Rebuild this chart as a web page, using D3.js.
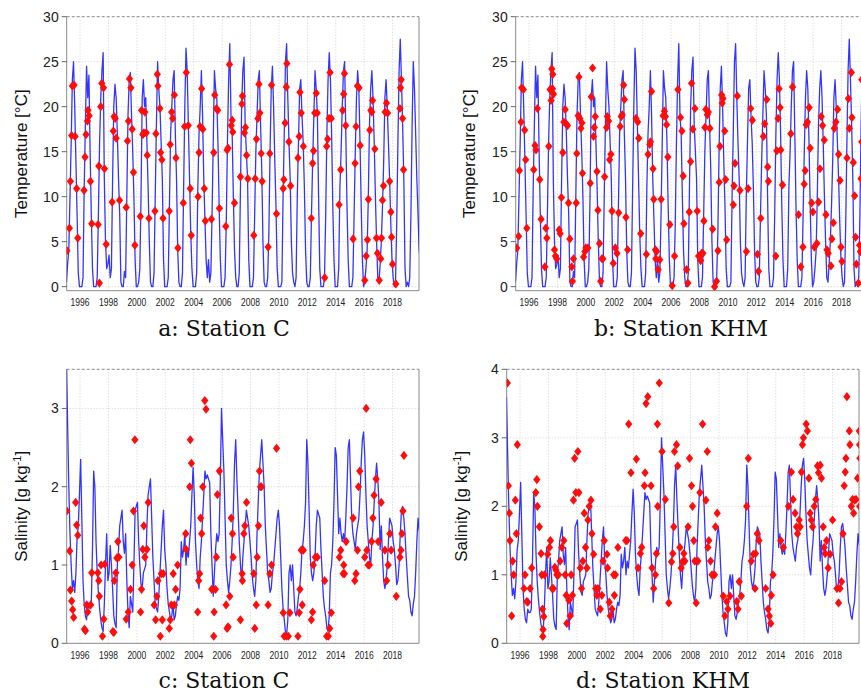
<!DOCTYPE html>
<html><head><meta charset="utf-8">
<script src="https://cdn.jsdelivr.net/npm/d3@7"></script>
<style>body{margin:0;background:#fff}svg{display:block}</style>
</head><body>
<svg id="chart" width="861" height="692"></svg>
<script>
// ---------- DATA ----------
const startYear = 1995;
const yearTicks = [1996,1998,2000,2002,2004,2006,2008,2010,2012,2014,2016,2018];
const tempTicks = [0,5,10,15,20,25,30];
const salTicksC = [0,1,2,3];
const salTicksKHM = [0,1,2,3,4];

// monthly modelled water temperature (Jan..Dec), 1995-2019
const tempLine = [
 0.5,2.5,4,10,16,23,25,20,14,8,1.5,0,
 0,0,1,11,18,24.5,21,23.5,15,8,2,0,
 0,0,1,8,16,21,24,26,12,5,2,2.5,
 3.5,1,2,12,20,22.5,21,17,12,8,0.5,0,
 0,1.7,1,10,19,23,23.8,19,15,10,3,0,
 0,0.5,2,10,21,23,20,21,16,11,5,0.5,
 0,0,1.5,10,18,25,22,20,16,12,3,0,
 0,0,1,9,17,20,23,24,17,12,4,0.5,
 0,0,1.5,11,20,26.5,24,18,12,6,2,0,
 0,0,1.5,11,17,20,24,19,12,7.5,3,1,
 3,0.5,1.5,8,16,24,22,21,16,9,3,0,
 0,0,1,7,16,23,27,19,17,10,4,1,
 0,0,1.5,11,20,24,25.5,18,15,12,3,0,
 0,0,1,8,15,19,23,24,18,13,5,0.5,
 0,0,1,6,15,22,24.5,20,14,9,2,0,
 0,0,0.5,10,17,25,27,21,16,12,5,1.5,
 0.5,0,1,10,16,22,23,19,16,11,4,0.5,
 0,0,1,8,14,19,24,22,19,10,2,0,
 0,0,1,8,17,23,26,23,17,9,3,0,
 0,0,2,11,15,20,24,25,17,9,3,0,
 0,0,1,8,15,21,24,22,16,9,3,0,
 0.5,2,4,10,18,22,24,21,16,10,5,1,
 0.5,2.5,5,9,14,21,23,20,16,12,7,3,
 1,0,0.5,7,16,24,27.5,23,18,12,2,0,
 0.5,0,1,8,18,25,22,17,12,8,4,3
];

// monthly modelled salinity (Jan..Dec), 1995-2019
const salLine = [
 3.6,2.8,2.0,1.4,1.0,0.7,0.8,0.65,0.9,1.35,1.5,1.9,
 2.35,1.6,0.8,0.5,0.35,0.3,0.5,0.45,0.45,0.5,1.2,2.2,
 2.0,1.3,0.9,0.65,0.45,0.3,0.2,0.15,0.5,1.0,1.4,0.8,
 0.9,1.25,1.0,0.7,0.35,0.25,0.2,1.0,1.2,1.5,1.6,1.7,
 1.3,1.15,1.4,0.8,0.4,0.2,0.6,0.5,0.4,1.0,1.7,1.75,
 1.8,1.3,1.0,0.75,0.7,0.9,0.95,1.0,1.5,1.9,2.0,2.1,
 1.6,1.1,0.8,0.5,0.45,0.4,0.6,0.9,1.2,1.5,1.7,1.2,
 1.0,0.7,0.5,0.4,0.3,0.35,0.5,0.3,0.35,0.5,0.6,0.55,
 0.7,1.3,1.1,1.2,1.4,1.0,1.2,1.1,1.3,1.5,1.9,2.25,
 1.9,1.3,1.0,0.8,0.7,1.1,1.3,1.6,1.9,2.2,2.1,2.15,
 2.1,2.05,1.4,1.0,0.6,0.9,1.2,1.4,1.3,1.4,2.1,3.0,
 2.6,2.2,1.6,1.0,0.8,0.65,0.8,1.0,1.3,1.7,2.3,2.6,
 2.1,1.7,1.3,1.0,0.8,1.1,1.3,1.5,1.7,1.6,1.5,1.3,
 1.1,0.85,0.7,0.6,0.8,1.4,1.8,2.2,2.4,2.6,2.3,2.0,
 1.5,1.2,0.9,0.8,0.65,0.7,0.9,1.0,1.2,1.4,1.6,1.7,
 1.5,1.1,0.7,0.45,0.3,0.15,0.1,0.3,0.9,1.0,0.8,1.0,
 0.7,0.4,0.35,0.45,0.6,0.7,0.9,1.2,1.3,1.5,1.8,2.6,
 2.3,1.7,1.1,0.9,0.8,0.9,1.1,1.5,1.7,1.65,1.6,1.2,
 0.9,0.6,0.45,0.35,0.2,0.15,0.35,0.9,1.0,1.3,1.8,2.5,
 2.4,1.9,1.4,1.6,1.4,1.3,1.4,1.3,1.6,2.0,2.5,2.6,
 2.1,1.6,1.4,1.3,1.2,1.4,1.5,1.6,1.9,2.3,2.6,2.7,
 2.4,1.9,1.5,1.3,1.1,1.0,1.3,1.5,1.8,2.1,2.3,2.1,
 1.8,1.2,1.5,1.1,0.8,0.7,0.8,1.0,1.3,1.6,1.55,1.5,
 1.3,1.2,1.0,0.75,0.8,1.0,1.4,1.7,1.75,1.6,1.4,1.1,
 0.85,0.6,0.55,0.4,0.35,0.5,0.6,0.9,1.3,1.6,1.45,1.4
];

// measured values [decimal year, value]
const obsTempC = [
[1995.07,4.0],[1995.25,6.5],[1995.32,11.7],[1995.41,16.8],[1995.46,22.3],[1995.58,22.4],[1995.65,16.7],[1995.76,10.9],[1995.84,5.4],
[1996.28,10.7],[1996.35,14.4],[1996.42,16.9],[1996.52,18.4],[1996.56,19.6],[1996.64,19.0],[1996.73,11.7],[1996.82,7.0],
[1997.27,6.9],[1997.32,13.4],[1997.36,0.4],[1997.46,20.0],[1997.53,22.6],[1997.65,22.1],[1997.72,13.1],[1997.84,4.7],
[1998.26,9.4],[1998.34,17.3],[1998.40,18.9],[1998.47,18.7],[1998.54,16.5],[1998.78,9.6],
[1999.25,8.8],[1999.34,16.2],[1999.41,18.4],[1999.48,23.1],[1999.58,22.1],[1999.67,17.5],[1999.76,12.7],[1999.86,4.6],
[2000.24,7.8],[2000.33,19.6],[2000.42,16.9],[2000.49,17.1],[2000.56,19.4],[2000.66,17.1],[2000.73,14.6],[2000.85,7.6],
[2001.27,8.4],[2001.34,17.0],[2001.44,23.6],[2001.48,22.3],[2001.62,19.8],[2001.67,14.9],[2001.76,14.1],[2001.84,7.6],
[2002.28,8.4],[2002.35,15.8],[2002.45,19.4],[2002.52,18.7],[2002.64,21.3],[2002.75,14.3],[2002.89,4.3],
[2003.27,9.3],[2003.36,17.8],[2003.48,23.8],[2003.62,17.9],[2003.76,10.9],[2003.83,5.7],
[2004.31,10.0],[2004.38,14.9],[2004.45,17.8],[2004.56,22.0],[2004.64,17.5],[2004.75,10.9],[2004.82,7.3],
[2005.25,7.5],[2005.41,14.9],[2005.48,21.3],[2005.60,19.8],[2005.69,19.6],[2005.81,8.7],
[2006.26,6.7],[2006.35,15.2],[2006.42,15.4],[2006.52,24.7],[2006.64,17.9],[2006.71,18.5],[2006.75,17.2],[2006.87,9.3],
[2007.29,12.2],[2007.39,20.3],[2007.43,21.2],[2007.57,17.1],[2007.64,17.7],[2007.72,14.6],[2007.81,12.0],
[2008.23,5.7],[2008.33,12.0],[2008.42,16.4],[2008.52,18.7],[2008.59,22.5],[2008.66,19.3],[2008.75,14.8],[2008.82,11.7],
[2009.24,4.4],[2009.36,14.8],[2009.48,22.4],[2009.83,8.1],
[2010.30,10.9],[2010.35,11.9],[2010.44,18.2],[2010.52,22.2],[2010.56,24.8],[2010.70,16.1],[2010.82,11.2],
[2011.34,14.3],[2011.43,16.7],[2011.48,21.6],[2011.57,19.3],[2011.72,15.6],
[2012.28,7.6],[2012.37,13.7],[2012.44,15.1],[2012.52,19.3],[2012.63,21.5],[2012.70,19.3],
[2013.22,1.0],[2013.36,15.6],[2013.43,16.4],[2013.53,18.7],[2013.60,23.8],[2013.69,18.7],
[2014.23,9.1],[2014.35,13.0],[2014.49,19.6],[2014.56,21.4],[2014.61,23.7],[2014.70,17.9],
[2015.22,5.3],[2015.36,13.7],[2015.43,17.8],[2015.53,22.3],[2015.64,22.1],[2015.72,15.7],
[2016.04,0.7],[2016.14,3.4],[2016.23,5.2],[2016.30,9.7],[2016.40,17.4],[2016.47,19.6],[2016.54,19.4],[2016.59,20.7],[2016.75,15.3],[2016.87,5.4],[2016.94,3.7],
[2017.06,0.7],[2017.17,3.1],[2017.22,5.4],[2017.29,9.6],[2017.36,11.2],[2017.48,19.4],[2017.57,20.4],[2017.65,19.3],[2017.79,11.7],[2017.88,8.3],[2017.93,5.5],[2018.00,2.5],
[2018.23,0.3],[2018.52,19.8],[2018.56,22.1],[2018.61,23.0],[2018.70,18.7],[2018.77,13.0]
];
const obsTempKHM = [
[1995.13,4.3],[1995.27,5.6],[1995.32,12.9],[1995.44,18.3],[1995.48,22.1],[1995.60,21.9],[1995.69,17.4],[1995.76,14.1],[1995.84,6.5],
[1996.33,13.0],[1996.42,15.7],[1996.49,15.2],[1996.59,19.8],[1996.75,11.9],[1996.85,7.5],
[1997.11,2.2],[1997.18,6.5],[1997.25,5.4],[1997.39,15.6],[1997.48,21.9],[1997.55,20.7],[1997.60,24.2],[1997.65,22.0],[1997.67,23.6],[1997.72,21.4],[1997.79,4.1],[1997.86,3.4],[1997.95,3.1],
[1998.12,6.3],[1998.19,5.9],[1998.28,9.9],[1998.38,14.9],[1998.45,18.3],[1998.54,19.7],[1998.61,18.1],[1998.71,17.9],[1998.78,9.3],[1998.87,5.3],[1999.01,2.2],[1999.06,0.6],[1999.13,3.1],
[1999.32,9.3],[1999.36,14.8],[1999.46,19.0],[1999.51,23.3],[1999.58,18.7],[1999.65,17.6],[1999.72,18.2],[1999.76,12.6],[1999.84,3.3],[1999.93,3.9],[2000.00,4.3],[2000.14,4.3],
[2000.31,11.5],[2000.38,21.1],[2000.47,24.3],[2000.54,16.7],[2000.59,17.7],[2000.66,18.9],[2000.78,12.8],[2000.85,8.5],[2000.96,4.8],[2001.04,0.6],[2001.13,3.1],[2001.20,3.1],
[2001.32,12.2],[2001.46,17.7],[2001.51,18.9],[2001.60,18.4],[2001.67,14.1],[2001.76,14.7],[2001.84,8.4],[2001.93,2.6],[2002.07,4.3],[2002.19,3.7],[2002.31,8.2],
[2002.42,17.8],[2002.49,18.9],[2002.56,19.1],[2002.66,22.4],[2002.71,20.8],[2002.82,7.7],[2002.94,4.1],
[2003.53,18.7],[2003.65,18.3],[2003.72,16.5],[2003.86,5.9],
[2004.26,3.6],[2004.38,14.7],[2004.50,15.8],[2004.55,16.1],[2004.62,21.7],[2004.73,13.1],[2004.78,9.7],[2004.90,4.1],[2004.97,3.9],[2004.92,3.1],[2005.09,1.9],[2005.20,3.0],
[2005.30,9.7],[2005.44,19.0],[2005.53,19.5],[2005.60,18.9],[2005.68,18.0],[2005.77,14.4],[2005.91,6.9],
[2006.08,0.1],[2006.24,3.4],[2006.48,21.9],[2006.66,18.8],[2006.76,17.3],[2006.85,12.3],[2006.90,7.0],
[2007.09,1.9],[2007.18,0.4],[2007.28,8.3],[2007.37,13.9],[2007.44,22.6],[2007.53,17.5],[2007.68,19.8],[2007.84,8.4],
[2007.93,3.4],[2008.08,2.9],[2008.15,3.7],[2008.24,3.7],[2008.31,7.3],[2008.38,17.7],[2008.45,19.7],[2008.55,19.1],[2008.62,19.4],[2008.73,17.6],[2008.92,6.4],
[2009.06,0.0],[2009.20,0.6],[2009.30,4.0],[2009.39,11.6],[2009.44,15.6],[2009.56,21.3],[2009.60,20.4],[2009.65,20.9],[2009.77,17.3],[2009.84,11.9],[2009.91,5.2],
[2010.38,9.1],[2010.43,11.2],[2010.50,13.7],[2010.66,21.2],[2010.85,10.7],
[2011.30,3.9],[2011.42,10.9],[2011.60,19.8],[2011.72,18.5],
[2012.08,3.6],[2012.15,1.7],[2012.31,7.6],[2012.50,16.7],[2012.59,18.1],[2012.73,20.8],[2012.80,13.3],[2012.85,11.7],
[2013.37,3.4],[2013.44,15.1],[2013.53,18.7],[2013.60,22.0],[2013.67,19.9],[2013.72,15.2],[2013.84,11.3],
[2014.43,17.0],[2014.55,22.2],[2014.97,8.0],
[2015.13,2.2],[2015.28,4.4],[2015.37,11.4],[2015.44,12.9],[2015.51,18.0],[2015.60,18.3],[2015.72,19.9],[2015.79,15.4],[2015.89,9.3],[2015.98,8.3],
[2016.08,4.4],[2016.26,4.8],[2016.38,9.4],[2016.48,13.1],[2016.57,18.9],[2016.66,17.9],[2016.78,16.3],[2016.90,8.0],[2016.97,4.1],
[2017.06,3.7],[2017.25,2.3],[2017.32,5.3],[2017.42,7.1],[2017.49,17.6],[2017.60,18.3],[2017.72,19.7],[2017.79,14.7],[2017.89,11.8],[2017.96,4.4],[2018.03,2.8],
[2018.38,14.3],[2018.48,20.9],[2018.55,17.6],[2018.69,23.8],[2018.73,18.8],[2018.83,13.8],[2018.92,10.1],[2018.99,5.5],[2019.04,2.5],
[2019.18,0.4],[2019.27,4.6],[2019.32,3.9],[2019.37,12.0],[2019.42,16.1],[2019.42,23.0]
];
const obsSalC = [
[1995.07,1.69],[1995.27,1.18],[1995.32,0.68],[1995.41,0.54],[1995.48,0.43],[1995.55,0.33],[1995.69,1.8],[1995.76,1.51],[1995.84,1.38],
[1996.31,0.18],[1996.38,0.16],[1996.47,0.49],[1996.54,0.4],[1996.75,0.49],[1996.82,0.9],
[1997.25,0.9],[1997.32,0.8],[1997.36,0.6],[1997.48,1.0],[1997.58,0.09],[1997.67,0.31],[1997.74,1.01],
[1998.31,0.15],[1998.38,0.14],[1998.42,0.8],[1998.52,0.9],[1998.59,1.09],[1998.66,1.3],[1998.73,1.1],
[1999.25,0.31],[1999.39,0.4],[1999.55,0.69],[1999.67,1.0],[1999.76,1.69],[1999.86,2.6],
[2000.26,0.4],[2000.33,0.69],[2000.42,1.2],[2000.49,1.5],[2000.56,1.1],[2000.71,1.2],[2000.80,1.8],
[2001.22,0.49],[2001.32,0.3],[2001.41,0.6],[2001.48,0.8],[2001.65,0.09],[2001.72,0.89],[2001.79,0.3],[2001.86,0.89],
[2002.28,0.19],[2002.35,0.3],[2002.42,0.49],[2002.56,0.89],[2002.64,0.49],[2002.73,0.69],[2002.87,1.0],
[2003.44,1.4],[2003.46,1.2],[2003.72,2.0],[2003.76,2.6],[2003.84,2.3],
[2004.28,0.4],[2004.35,0.8],[2004.42,0.89],[2004.49,1.6],[2004.56,1.4],[2004.64,2.0],[2004.78,3.1],[2004.87,2.99],
[2005.27,0.69],[2005.41,0.09],[2005.44,0.4],[2005.53,0.69],[2005.60,1.1],[2005.67,1.9],[2005.81,2.2],
[2006.28,0.49],[2006.35,0.19],[2006.42,0.21],[2006.54,0.6],[2006.64,1.6],[2006.73,1.4],[2006.78,1.1],
[2007.29,0.3],[2007.41,0.89],[2007.43,0.8],[2007.53,1.4],[2007.60,1.5],[2007.72,1.8],
[2008.23,0.89],[2008.30,0.19],[2008.40,0.49],[2008.47,1.1],[2008.56,1.5],[2008.63,2.2],[2008.70,2.0],[2008.77,2.0],
[2009.24,0.49],[2009.36,0.89],[2009.48,1.0],[2009.83,2.49],
[2010.30,0.39],[2010.37,0.09],[2010.52,0.09],[2010.66,0.09],[2010.77,0.39],
[2011.34,0.09],[2011.43,0.39],[2011.48,0.69],[2011.57,1.19],[2011.64,0.49],[2011.72,1.19],
[2012.28,0.3],[2012.37,0.4],[2012.42,1.0],[2012.56,1.1],[2012.70,1.1],
[2013.22,0.8],[2013.36,0.09],[2013.48,0.09],[2013.57,0.19],[2013.69,0.39],
[2014.26,1.1],[2014.35,1.19],[2014.52,0.89],[2014.56,1.0],[2014.61,0.89],[2014.73,1.3],
[2015.22,1.6],[2015.34,0.8],[2015.43,0.89],[2015.53,1.19],[2015.60,2.0],[2015.69,2.2],
[2016.04,1.1],[2016.14,3.0],[2016.19,1.19],[2016.28,1.0],[2016.37,1.0],[2016.52,1.3],[2016.61,1.6],[2016.70,1.89],[2016.84,2.1],[2016.99,1.3],
[2017.20,1.8],[2017.46,1.19],[2017.58,0.8],[2017.69,1.0],[2017.81,1.4],[2017.90,1.19],
[2018.26,0.6],[2018.52,1.1],[2018.59,1.19],[2018.66,1.4],[2018.73,1.69],[2018.80,2.4]
];
const obsSalKHM = [
[1995.11,3.8],[1995.18,2.3],[1995.25,1.9],[1995.29,1.5],[1995.41,0.4],[1995.48,1.2],[1995.55,1.0],[1995.67,2.09],[1995.74,1.6],[1995.81,2.9],
[1996.28,0.8],[1996.35,1.0],[1996.47,0.61],[1996.54,0.6],[1996.71,0.8],[1996.82,1.1],
[1997.11,2.2],[1997.18,2.39],[1997.22,2.0],[1997.36,1.7],[1997.48,1.31],[1997.53,1.0],[1997.58,0.5],[1997.60,0.1],[1997.62,0.2],[1997.67,0.39],[1997.72,1.0],
[1997.95,1.3],[1998.07,1.4],[1998.14,1.5],[1998.26,0.8],[1998.35,0.8],[1998.45,1.11],[1998.52,1.07],[1998.59,1.0],[1998.71,1.0],[1998.82,1.2],[1998.94,1.4],
[1999.08,1.5],[1999.18,1.0],[1999.25,0.7],[1999.29,0.29],[1999.44,0.63],[1999.53,0.4],[1999.60,1.0],[1999.69,0.7],[1999.76,2.09],[1999.84,2.7],[1999.93,2.2],
[2000.07,2.8],[2000.14,2.2],[2000.24,1.1],[2000.33,0.8],[2000.42,1.2],[2000.52,1.9],[2000.61,1.4],[2000.71,1.1],[2000.78,1.8],[2000.87,2.0],[2000.99,2.09],
[2001.06,1.6],[2001.18,1.3],[2001.32,0.8],[2001.41,0.7],[2001.48,0.8],[2001.65,0.5],[2001.76,0.7],[2001.84,1.2],[2001.93,1.5],
[2002.12,1.3],[2002.16,1.1],[2002.28,0.6],[2002.35,0.4],[2002.47,0.5],[2002.59,1.0],[2002.64,0.7],[2002.71,1.0],[2002.89,1.4],
[2003.44,1.5],[2003.53,1.5],[2003.65,3.2],[2003.81,2.49],
[2004.19,2.69],[2004.31,1.1],[2004.47,1.31],[2004.56,1.4],[2004.75,2.3],[2004.80,2.49],[2004.87,3.5],[2004.99,3.6],
[2005.22,2.3],[2005.29,1.1],[2005.41,0.8],[2005.53,1.0],[2005.60,1.31],[2005.67,3.2],[2005.69,2.0],[2005.80,3.8],
[2006.00,2.8],[2006.23,2.1],[2006.47,0.59],[2006.66,1.19],[2006.75,1.31],[2006.82,1.7],[2006.87,2.8],
[2007.01,2.9],[2007.10,2.59],[2007.25,1.4],[2007.34,1.1],[2007.43,1.19],[2007.53,1.31],[2007.60,1.2],[2007.83,1.7],[2007.93,2.7],
[2008.07,2.3],[2008.14,2.0],[2008.23,1.5],[2008.30,1.2],[2008.40,0.59],[2008.52,1.2],[2008.66,2.2],[2008.85,3.2],
[2009.08,2.09],[2009.18,2.8],[2009.22,1.4],[2009.29,1.5],[2009.41,1.2],[2009.51,1.0],[2009.69,1.0],[2009.76,1.7],[2009.88,1.9],
[2010.31,0.69],[2010.42,0.4],[2010.54,0.61],[2010.63,0.5],[2010.78,0.69],
[2011.25,0.61],[2011.34,0.5],[2011.43,0.9],[2011.58,0.69],[2011.95,2.0],[2012.07,2.7],
[2012.28,1.2],[2012.42,1.3],[2012.54,0.8],[2012.58,1.31],[2012.70,1.6],[2012.82,1.5],
[2013.29,0.8],[2013.46,0.5],[2013.55,0.4],[2013.65,0.29],[2013.69,0.7],[2013.81,1.0],
[2014.35,1.5],[2014.54,1.4],[2014.89,2.0],[2015.10,2.5],[2015.22,2.1],[2015.36,1.9],[2015.46,1.7],[2015.53,1.6],[2015.65,1.8],[2015.72,1.7],
[2015.81,2.5],[2015.88,2.9],[2015.95,3.0],[2016.14,3.2],[2016.23,3.1],[2016.33,2.41],[2016.42,1.9],[2016.50,1.8],[2016.59,1.7],[2016.71,2.0],[2016.82,2.1],[2016.94,2.59],[2017.01,2.49],
[2017.13,2.6],[2017.22,2.41],[2017.34,1.7],[2017.41,1.4],[2017.48,1.31],[2017.58,1.5],[2017.69,1.1],[2017.83,1.3],[2018.00,1.8],
[2018.31,0.8],[2018.42,0.59],[2018.52,0.8],[2018.63,0.9],[2018.73,1.6],[2018.82,2.3],[2018.89,2.5],[2018.94,2.7],[2019.01,3.6],
[2019.18,3.1],[2019.22,2.9],[2019.32,2.0],[2019.41,2.1],[2019.48,1.9],[2019.55,2.09],[2019.65,2.1],[2019.76,2.41],[2019.88,3.1],[2019.90,2.9],[2019.92,2.7],[2019.90,2.0]
];

// ---------- DRAWING ----------
const svg = d3.select('#chart');
const defs = svg.append('defs');
const X_DOMAIN = [1995.06, 2019.86];
const PW = 352.3;

function monthly(arr){ return arr.map((v,i)=>[startYear + (i + 0.5)/12, v]); }

function panel(cfg, idx){
  const {left, top, bottom, yDomain, yTicks, line, obs, title, sup, caption, capX, capY} = cfg;
  const x = d3.scaleLinear().domain(X_DOMAIN).range([left, left + PW]);
  const y = d3.scaleLinear().domain(yDomain).range([bottom, top]);
  const g = svg.append('g');
  const cid = 'clip' + idx;
  defs.append('clipPath').attr('id', cid).append('rect')
    .attr('x', left).attr('y', top).attr('width', PW).attr('height', bottom - top);

  // grid
  g.append('g').selectAll('line').data(yearTicks).join('line')
    .attr('x1', d=>x(d)).attr('x2', d=>x(d)).attr('y1', top).attr('y2', bottom)
    .attr('stroke', '#d0d0d0').attr('stroke-width', 1).attr('stroke-dasharray', '1,2');
  g.append('g').selectAll('line').data(yTicks.filter(t=>t>yDomain[0] && t<yDomain[1])).join('line')
    .attr('x1', left).attr('x2', left + PW).attr('y1', d=>y(d)).attr('y2', d=>y(d))
    .attr('stroke', '#d0d0d0').attr('stroke-width', 1).attr('stroke-dasharray', '1,2');

  // frame
  g.append('line').attr('x1', left).attr('x2', left + PW).attr('y1', top).attr('y2', top)
    .attr('stroke', '#8a8a8a').attr('stroke-dasharray', '3,2');
  g.append('path').attr('d', `M${left},${top}V${bottom}H${left+PW}V${top}`)
    .attr('fill', 'none').attr('stroke', '#8a8a8a').attr('stroke-width', 1);

  // y ticks & labels
  g.append('g').selectAll('line').data(yTicks).join('line')
    .attr('x1', left - 5).attr('x2', left).attr('y1', d=>y(d)).attr('y2', d=>y(d))
    .attr('stroke', '#666');
  g.append('g').selectAll('text').data(yTicks).join('text')
    .attr('x', left - 8).attr('y', d=>y(d)).attr('dy', '0.36em')
    .attr('text-anchor', 'end').attr('font-family', 'Liberation Sans, Arial, sans-serif')
    .attr('font-size', 14).attr('fill', '#222').text(d=>d);

  // x labels
  g.append('g').selectAll('text').data(yearTicks).join('text')
    .attr('x', d=>x(d)).attr('y', bottom + 15.5)
    .attr('text-anchor', 'middle').attr('font-family', 'Liberation Sans, Arial, sans-serif')
    .attr('font-size', 10).attr('fill', '#222')
    .attr('textLength', 19).attr('lengthAdjust', 'spacingAndGlyphs').text(d=>d);

  // data
  const pg = g.append('g').attr('clip-path', `url(#${cid})`);
  pg.append('path').datum(monthly(line))
    .attr('d', d3.line().x(d=>x(d[0])).y(d=>y(d[1])))
    .attr('fill', 'none').attr('stroke', '#1010ff').attr('stroke-width', 1.3)
    .attr('stroke-opacity', 0.85).attr('stroke-linejoin', 'round');
  pg.append('g').selectAll('path').data(obs).join('path')
    .attr('d', 'M0,-4.6L3.6,0L0,4.6L-3.6,0Z')
    .attr('transform', d=>`translate(${x(d[0])},${y(d[1])})`)
    .attr('fill', '#ff0d0d');

  // y title
  const tx = cfg.titleX, ty = (top + bottom) / 2;
  const t = g.append('text').attr('transform', `translate(${tx},${ty}) rotate(-90)`)
    .attr('text-anchor', 'middle').attr('dy', '0.35em')
    .attr('font-family', 'Liberation Sans, Arial, sans-serif').attr('font-size', 17).attr('fill', '#111');
  t.append('tspan').text(title);
  if (sup) {
    t.append('tspan').attr('font-size', 11).attr('dy', -6).text(sup);
    t.append('tspan').attr('dy', 6).text(']');
  }

  // caption
  svg.append('text').attr('x', capX).attr('y', capY).attr('text-anchor', 'middle')
    .attr('font-family', 'DejaVu Serif, serif').attr('font-size', 22).attr('fill', '#111')
    .text(caption);
}

const panels = [
  {left:66.7, top:16.7, bottom:290.7, yDomain:[-0.45,30], yTicks:tempTicks, line:tempLine, obs:obsTempC,
   title:'Temperature [°C]', titleX:21, caption:'a: Station C', capX:224, capY:336},
  {left:515.7, top:16.7, bottom:290.7, yDomain:[-0.45,30], yTicks:tempTicks, line:tempLine, obs:obsTempKHM,
   title:'Temperature [°C]', titleX:469, caption:'b: Station KHM', capX:681, capY:336},
  {left:66.7, top:369.3, bottom:643.3, yDomain:[0,3.5], yTicks:salTicksC, line:salLine, obs:obsSalC,
   title:'Salinity [g kg', sup:'-1', titleX:21.5, caption:'c: Station C', capX:224, capY:688},
  {left:506.7, top:369.3, bottom:643.3, yDomain:[0,4], yTicks:salTicksKHM, line:salLine, obs:obsSalKHM,
   title:'Salinity [g kg', sup:'-1', titleX:461.5, caption:'d: Station KHM', capX:663, capY:688}
];
panels.forEach((p,i)=>panel(p,i));
</script>
</body></html>
